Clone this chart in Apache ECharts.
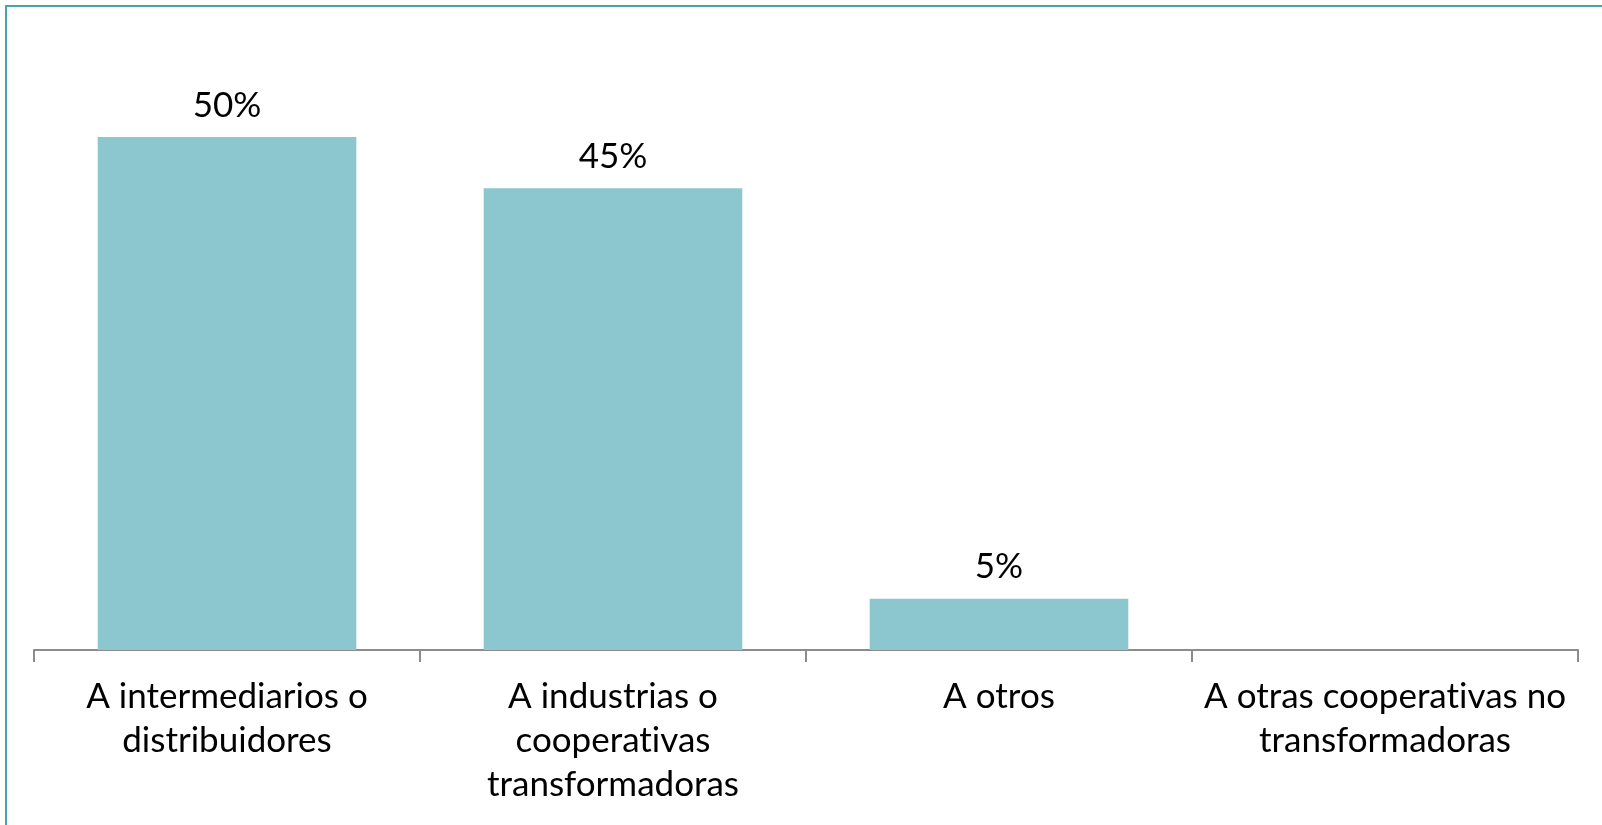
<!DOCTYPE html>
<html>
<head>
<meta charset="utf-8">
<script src="https://cdn.jsdelivr.net/npm/echarts@6/dist/echarts.min.js"></script>
<style>
  html, body { margin: 0; padding: 0; background: #ffffff; }
  #wrap { position: relative; width: 1602px; height: 825px; overflow: hidden; }
  #frame { position: absolute; left: 5px; top: 5px; width: 1700px; height: 900px;
           border: 2px solid #4aa3a8; box-sizing: border-box; }
  #chart { position: absolute; left: 0; top: 0; width: 1602px; height: 825px; }
</style>
</head>
<body>
<div id="wrap">
  <div id="frame"></div>
  <div id="chart"></div>
</div>
<script>
// Destination of sales, share of responses (%)
const categories = [
  'A intermediarios o\ndistribuidores',
  'A industrias o\ncooperativas\ntransformadoras',
  'A otros',
  'A otras cooperativas no\ntransformadoras'
];
const shares = [50, 45, 5, 0];

// Plain glyphs, no "ti" ligatures
const nativeFillText = CanvasRenderingContext2D.prototype.fillText;
CanvasRenderingContext2D.prototype.fillText = function () {
  this.textRendering = 'optimizeSpeed';
  return nativeFillText.apply(this, arguments);
};

const chart = echarts.init(document.getElementById('chart'), null, { renderer: 'canvas' });

chart.setOption({
  backgroundColor: 'transparent',
  animation: false,
  grid: { left: 34, right: 24, top: 137, bottom: 175, containLabel: false },
  xAxis: {
    type: 'category',
    data: categories,
    axisLine: { show: true, lineStyle: { color: '#8c8c8c', width: 2 } },
    axisTick: { show: true, alignWithLabel: false, length: 12, lineStyle: { color: '#8c8c8c', width: 2 } },
    axisLabel: {
      color: '#000000',
      fontFamily: 'Lato',
      fontSize: 35,
      lineHeight: 44,
      margin: 25,
      interval: 0
    }
  },
  yAxis: {
    type: 'value',
    min: 0,
    max: 50,
    show: false,
    splitLine: { show: false }
  },
  series: [{
    type: 'bar',
    data: shares.map(v => (v > 0 ? v : null)),
    barCategoryGap: '33%',
    itemStyle: { color: '#8cc6ce' },
    label: {
      show: true,
      position: 'top',
      distance: 14,
      color: '#000000',
      fontFamily: 'Lato',
      fontSize: 35,
      formatter: p => p.value + '%'
    }
  }]
});
</script>
</body>
</html>
